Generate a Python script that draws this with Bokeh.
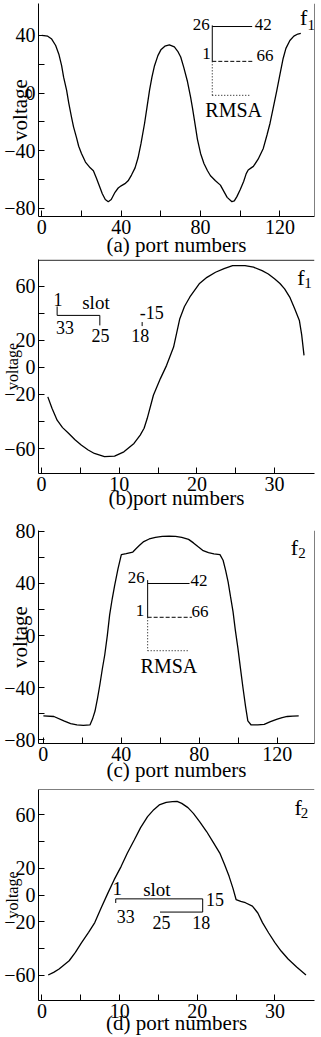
from bokeh.plotting import figure
from bokeh.models import Range1d, FixedTicker, Label, Span
from bokeh.layouts import column
from bokeh.embed import file_html
from bokeh.resources import INLINE

FONT = "Liberation Serif"

# ---------------- data ----------------
# (a) f1, RMSA, ports 0..131
a_x = [0, 3, 5, 7, 8.6, 10, 11, 12.5, 13.6, 15,
       16, 17.5, 18.6, 20, 22, 24.4, 26, 27.5, 28.6, 30.5,
       32, 33.5, 35, 36.9, 38.5, 40, 41.9, 43.5, 45.2, 47,
       48.5, 50, 51.8, 53, 54.3, 55.5, 56.8, 58.5, 60, 62,
       64.3, 66.8, 68.5, 70, 71.5, 73.4, 75, 76, 77.5, 78.4,
       80, 81.7, 83.5, 85, 87.5, 90, 92, 93.4, 95.8, 97,
       98.3, 100, 101.7, 103, 104, 105.5, 106.6, 109, 111.6, 113.5,
       115, 116.5, 118.3, 120, 121.6, 123, 125, 127, 129, 130.5]
a_y = [40, 39.5, 37.5, 33, 27, 19, 11, 2, -7, -17,
       -23.5, -31, -37, -42, -48, -52, -54, -59, -63, -70,
       -74, -75.5, -74, -69, -66, -64.5, -63, -61, -57, -52,
       -45, -35, -21, -10, 2, 11, 19, 26, 30, 32.5,
       33.5, 32, 29, 25, 18, 8, -3, -11, -24, -32,
       -42, -49, -54, -57.5, -61, -64, -69, -72.5, -75.5, -75,
       -72, -67, -61.5, -56, -53.5, -52, -51, -46, -38.5, -29,
       -21, -11, 1, 13, 24, 31, 36.5, 39.5, 41, 41.5]

# (b) f1, slot, ports 1..34
b_x = [0.8, 1.35, 2, 2.7, 3.5, 4.3, 5.1, 6, 6.8, 8.1,
       9.4, 10.6, 11.9, 12.7, 13.2, 13.6, 14.4, 15.3, 16.1, 17,
       17.8, 18.4, 19.1, 20.3, 21.3, 22.4, 23.5, 24.6, 26.2, 27.3,
       28.4, 29.2, 30, 30.7, 31.3, 32, 32.6, 33.2, 33.5, 33.8]
b_y = [-21.8, -30.4, -39, -44.5, -48.8, -53.5, -57.4, -61, -63.6, -66,
       -65.6, -62.4, -56.2, -50, -45, -37.8, -20.6, -8.3, 1.5, 15,
       36, 45, 52, 61.7, 66.5, 70.3, 73, 75.2, 75.2, 74,
       71.5, 69, 65.4, 62, 58, 51.5, 43.3, 34.7, 24, 8.9]

# (c) f2, RMSA, ports 0..131
c_x = [0, 5.4, 10.5, 14, 17.2, 20.5, 23.9, 25.2, 26.5, 27.8,
       29, 30.2, 31.5, 32.8, 34, 35.3, 36.6, 38.3, 40, 42.5,
       45.9, 47.5, 49.2, 51.5, 54.3, 57.5, 61, 64.5, 67.8, 71,
       74.5, 77, 79.6, 82, 84.7, 87.5, 90.6, 92.2, 93.5, 94.8,
       96, 97.3, 98.5, 99.8, 101.1, 102.4, 103.7, 104.9, 106.6, 110,
       113.3, 116.5, 120, 122.5, 125.1, 128, 131]
c_y = [-61.6, -62, -65.4, -67.5, -68.5, -68.8, -68.5, -64, -57.8, -48,
       -37.5, -26, -14.7, 0, 15.8, 28, 38.6, 51.3, 62, 62.7,
       64, 66.5, 69, 72, 74, 75.3, 76, 76.2, 76, 75.2,
       73.7, 71, 67.8, 65, 63.5, 62.6, 62, 57.7, 50, 41,
       30, 18.3, 4, -9.6, -25, -40, -54, -65.4, -68.5, -68.5,
       -68, -66, -64, -62.8, -62, -61.7, -61.6]

# (d) f2, slot, ports 1..34
d_x = [0.8, 1.5, 2.2, 3.5, 4.3, 5.1, 6, 6.8, 7.6, 8.5,
       9.3, 10.2, 11, 11.9, 12.7, 13.6, 14.4, 15.1, 16, 16.8,
       17.4, 18, 18.8, 19.5, 20.3, 21.2, 22, 22.9, 23.5, 24.1,
       24.6, 25, 25.6, 26.2, 27.1, 27.8, 28.4, 29.2, 30, 30.8,
       31.7, 32.8, 34]
d_y = [-60, -58, -55.5, -49.3, -43, -35.7, -28, -20.7, -10, 1.6,
       11.5, 21.5, 31.5, 41.4, 50.5, 58.8, 64, 67.5, 69.5, 70,
       70.2, 68.7, 65.5, 61.2, 55, 47.6, 40, 31.4, 23, 14,
       5, -3.4, -4.8, -5.8, -8.3, -13.5, -20.7, -28.5, -35.7, -42,
       -48, -54, -60]

ticks_x_long = [0, 40, 80, 120]
ticks_x_long_minor = [20, 60, 100]
ticks_x_short = [0, 10, 20, 30]
ticks_x_short_minor = [5, 15, 25]
ticks_y_a = [-80, -40, 0, 40]
ticks_y_a_minor = [-60, -20, 20]
ticks_y_bd = [-60, -20, 0, 20, 60]
ticks_y_bd_minor = [-40, 40]
ticks_y_c = [-80, -40, 0, 40, 80]
ticks_y_c_minor = [-60, -20, 20, 60]

W = 321


def panel(h, top, bottom, left, right, xr, yr, xmaj, xmin, ymaj, ymin,
          xlabel, xl_stand, yl_stand, yl_size="21px"):
    p = figure(width=W, height=h, x_range=Range1d(*xr), y_range=Range1d(*yr),
               output_backend="svg", toolbar_location=None,
               min_border_top=top, min_border_bottom=bottom,
               min_border_left=left, min_border_right=right)
    p.outline_line_color = None
    p.grid.visible = False
    p.xaxis.ticker = FixedTicker(ticks=xmaj, minor_ticks=xmin)
    p.yaxis.ticker = FixedTicker(ticks=ymaj, minor_ticks=ymin)
    p.axis.major_tick_in = 6
    p.axis.major_tick_out = 0
    p.axis.minor_tick_in = 6
    p.axis.minor_tick_out = 0
    p.axis.axis_line_color = "black"
    p.axis.major_tick_line_color = "black"
    p.axis.minor_tick_line_color = "black"
    p.axis.major_label_text_font = FONT
    p.axis.major_label_text_font_size = "20px"
    p.axis.major_label_text_color = "black"
    p.axis.major_label_standoff = 3
    p.axis.axis_label_text_font = FONT
    p.axis.axis_label_text_font_style = "normal"
    p.axis.axis_label_text_color = "black"
    p.xaxis.axis_label = xlabel
    p.xaxis.axis_label_text_font_size = "21px"
    p.xaxis.axis_label_standoff = xl_stand
    p.yaxis.axis_label = "voltage"
    p.yaxis.axis_label_text_font_size = yl_size
    p.yaxis.axis_label_standoff = yl_stand
    return p


def txt(p, x, y, s, size, align="center", color="black"):
    p.add_layout(Label(x=x, y=y, text=s, text_font=FONT, text_font_size=size,
                       text_align=align, text_baseline="middle",
                       text_color=color))


def seg(p, x0, y0, x1, y1, dash="solid", width=1.0):
    p.segment(x0=[x0], y0=[y0], x1=[x1], y1=[y1], line_color="black",
              line_width=width, line_dash=dash)


def fsub(p, fx, fy, sx, sy, sub):
    txt(p, fx, fy, "f", "22px")
    txt(p, sx, sy, sub, "15px")


# ---------------- (a) ----------------
pa = panel(259, 3, 42, 36, 6, (-1.65, 137.4), (-85.8, 62.2),
           ticks_x_long, ticks_x_long_minor, ticks_y_a, ticks_y_a_minor,
           "(a) port numbers", -4, -31)
pa.line(a_x, a_y, line_color="black", line_width=1.3)
pa.add_layout(Span(location=137.4, dimension="height", line_color="black", line_width=1))
seg(pa, 85.9, 47.0, 85.9, 22)
seg(pa, 85.9, 46.2, 106, 46.2)
seg(pa, 85.9, 22, 107, 22, dash="4 2")
seg(pa, 85.9, 22, 85.9, -1.6, dash="1 2")
seg(pa, 85.9, -1.6, 105.5, -1.6, dash="1 2")
txt(pa, 80.4, 47.6, "26", "17px")
txt(pa, 111.6, 47.6, "42", "17px")
txt(pa, 83, 27.3, "1", "17px")
txt(pa, 112.5, 26, "66", "17px")
txt(pa, 96.7, -12, "RMSA", "20px")
fsub(pa, 131.9, 52.7, 135.7, 47.6, "1")

# ---------------- (b) ----------------
pb = panel(254, 0, 40, 38, 4, (-0.4, 35.15), (-78.4, 79.7),
           ticks_x_short, ticks_x_short_minor, ticks_y_bd, ticks_y_bd_minor,
           "(b)port numbers", -8, -20, "16px")
pb.line(b_x, b_y, line_color="black", line_width=1.3)
pb.add_layout(Span(location=79.2, dimension="width", line_color="black", line_width=1))
seg(pb, 2.0, 45, 2.0, 38.4)
seg(pb, 2.0, 38.4, 7.5, 38.4)
seg(pb, 7.5, 38.4, 7.5, 31)
seg(pb, 12.95, 33.5, 12.95, 30.5)
txt(pb, 2.1, 49.9, "1", "18px")
txt(pb, 7.0, 48.2, "slot", "19px")
txt(pb, 3.0, 29.8, "33", "18px")
txt(pb, 7.6, 23.6, "25", "18px")
txt(pb, 14.2, 40.8, "-15", "18px")
txt(pb, 12.7, 23.6, "18", "18px")
fsub(pb, 33.4, 66.6, 34.3, 62.5, "1")

# ---------------- (c) ----------------
pc = panel(271, 17, 40, 34, 7, (-2.5, 139.1), (-82.7, 80.5),
           ticks_x_long, ticks_x_long_minor, ticks_y_c, ticks_y_c_minor,
           "(c) port numbers", -6, -31)
pc.line(c_x, c_y, line_color="black", line_width=1.3)
pc.add_layout(Span(location=139.1, dimension="height", line_color="black", line_width=1))
seg(pc, 53.5, 42.5, 53.5, 14)
seg(pc, 53.5, 39.9, 75, 39.9)
seg(pc, 53.5, 14, 76.2, 14, dash="4 2")
seg(pc, 53.5, 14, 53.5, -11.6, dash="1 2")
seg(pc, 53.5, -11.6, 74.5, -11.6, dash="1 2")
txt(pc, 47.6, 44.5, "26", "17px")
txt(pc, 79.9, 42.4, "42", "17px")
txt(pc, 49.6, 19, "1", "17px")
txt(pc, 80.4, 18.8, "66", "17px")
txt(pc, 64.4, -23.5, "RMSA", "20px")
fsub(pc, 128.8, 67.3, 132.7, 63.5, "2")

# ---------------- (d) ----------------
pd_ = panel(253, 5, 36, 38, 4, (-0.45, 35.1), (-79.1, 79.1),
            ticks_x_short, ticks_x_short_minor, ticks_y_bd, ticks_y_bd_minor,
            "(d) port numbers", -10, -20, "16px")
pd_.line(d_x, d_y, line_color="black", line_width=1.3)
pd_.add_layout(Span(location=79.1, dimension="width", line_color="black", line_width=1))
seg(pd_, 9.5, -2.9, 9.5, -6)
seg(pd_, 9.5, -2.9, 20.7, -2.9)
seg(pd_, 20.7, -2.9, 20.7, -12.8)
seg(pd_, 15.2, -12.8, 20.7, -12.8)
txt(pd_, 9.7, 4.8, "1", "19px")
txt(pd_, 14.8, 4.1, "slot", "19px")
txt(pd_, 22.3, -3.4, "15", "18px")
txt(pd_, 10.8, -15.8, "33", "18px")
txt(pd_, 15.4, -20.7, "25", "18px")
txt(pd_, 20.5, -20.7, "18", "18px")
fsub(pd_, 33.0, 65.7, 33.8, 61.2, "2")

layout = column(pa, pb, pc, pd_, spacing=0)
open("out.html", "w").write(file_html(layout, INLINE))
